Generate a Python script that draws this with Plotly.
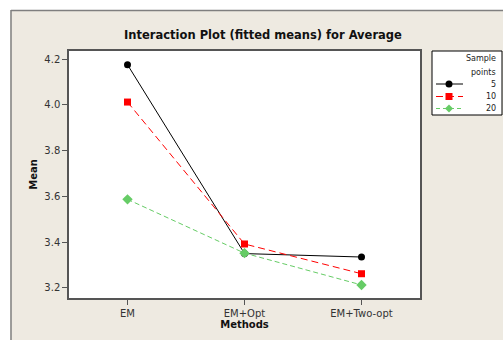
import plotly.graph_objects as go

methods = ["EM", "EM+Opt", "EM+Two-opt"]
series_names = ["5", "10", "20"]
mean_5 = [4.175, 3.35, 3.335]
mean_10 = [4.012, 3.392, 3.262]
mean_20 = [3.587, 3.352, 3.213]
y_ticks = [3.2, 3.4, 3.6, 3.8, 4.0, 4.2]

W, H = 503, 340
# plot area in pixels
L, R, T, B = 69, 420, 51, 298
pw, ph = R - L, B - T

def px(x):
    return (x - L) / pw

def py(y):
    return (B - y) / ph

FONT = "DejaVu Sans"
beige = "#EEEAE1"

styles = [
    dict(color="black", dash="solid", symbol="circle", size=7),
    dict(color="#FF0000", dash="7px,4px", symbol="square", size=7),
    dict(color="#66CC66", dash="5px,3px", symbol="diamond", size=8),
]

fig = go.Figure()
for name, vals, st in zip(series_names, [mean_5, mean_10, mean_20], styles):
    fig.add_trace(go.Scatter(
        x=[0, 1, 2], y=vals, name=name, mode="lines+markers", showlegend=False,
        line=dict(color=st["color"], width=1, dash=st["dash"]),
        marker=dict(color=st["color"], symbol=st["symbol"], size=st["size"]),
    ))

shapes = [
    dict(type="rect", xref="paper", yref="paper", x0=px(-5), x1=px(W + 5), y0=py(10), y1=py(-5),
         fillcolor="white", line=dict(width=0), layer="below"),
    dict(type="rect", xref="paper", yref="paper", x0=px(-5), x1=px(10.5), y0=py(H + 5), y1=py(-5),
         fillcolor="white", line=dict(width=0), layer="below"),
    dict(type="line", xref="paper", yref="paper", x0=px(11), x1=px(W + 5), y0=py(10.5), y1=py(10.5),
         line=dict(color="#7F7F7F", width=1.5)),
    dict(type="line", xref="paper", yref="paper", x0=px(11), x1=px(11), y0=py(10), y1=py(H + 5),
         line=dict(color="#7F7F7F", width=1.5)),
    # legend box
    dict(type="rect", xref="paper", yref="paper", x0=px(432), x1=px(502), y0=py(115), y1=py(51),
         fillcolor="white", line=dict(color="black", width=1)),
]
annotations = [
    dict(text="Sample", x=px(498), y=py(59), xref="paper", yref="paper", xanchor="right",
         yanchor="middle", showarrow=False, font=dict(size=8, color="#222222")),
    dict(text="points", x=px(498), y=py(72), xref="paper", yref="paper", xanchor="right",
         yanchor="middle", showarrow=False, font=dict(size=8, color="#222222")),
]
leg_y = [84, 96.5, 108.5]
leg_dash = ["solid", "7px,4px", "4px,3px"]
mx = 449
for name, st, yy, dsh in zip(series_names, styles, leg_y, leg_dash):
    shapes.append(dict(type="line", xref="paper", yref="paper", x0=px(436), x1=px(463),
                       y0=py(yy), y1=py(yy), line=dict(color=st["color"], width=1, dash=dsh)))
    r = st["size"] / 2
    if st["symbol"] == "circle":
        shapes.append(dict(type="circle", xref="paper", yref="paper", x0=px(mx - r), x1=px(mx + r),
                           y0=py(yy + r), y1=py(yy - r), fillcolor=st["color"], line=dict(width=0)))
    elif st["symbol"] == "square":
        shapes.append(dict(type="rect", xref="paper", yref="paper", x0=px(mx - r), x1=px(mx + r),
                           y0=py(yy + r), y1=py(yy - r), fillcolor=st["color"], line=dict(width=0)))
    else:
        path = (f"M {px(mx - r)} {py(yy)} L {px(mx)} {py(yy - r)} "
                f"L {px(mx + r)} {py(yy)} L {px(mx)} {py(yy + r)} Z")
        shapes.append(dict(type="path", xref="paper", yref="paper", path=path,
                           fillcolor=st["color"], line=dict(width=0)))
    annotations.append(dict(text=name, x=px(498), y=py(yy), xref="paper", yref="paper",
                            xanchor="right", yanchor="middle", showarrow=False,
                            font=dict(size=8, color="#222222")))

fig.update_layout(
    width=W, height=H,
    margin=dict(l=L, r=W - R, t=T, b=H - B),
    paper_bgcolor=beige, plot_bgcolor="white",
    font=dict(family=FONT, size=10, color="#333333"),
    title=dict(text="<b>Interaction Plot (fitted means) for Average</b>",
               xref="container", x=263 / W, xanchor="center",
               yref="container", y=1 - 35 / H, yanchor="middle",
               font=dict(family=FONT, size=11.5, color="#111111")),
    xaxis=dict(range=[-0.5, 2.5], tickmode="array", tickvals=[0, 1, 2], ticktext=methods,
               showgrid=False, zeroline=False, showline=True, mirror=True,
               linecolor="#555555", linewidth=1.5, ticks="outside", ticklen=5,
               tickcolor="#555555", tickfont=dict(size=10, color="#333333"),
               title=dict(text="<b>Methods</b>", font=dict(size=10, color="#111111"), standoff=1)),
    yaxis=dict(range=[3.156, 4.235], tickmode="array", tickvals=y_ticks,
               ticktext=[f"{v:.1f}" for v in y_ticks],
               showgrid=False, zeroline=False, showline=True, mirror=True,
               linecolor="#555555", linewidth=1.5, ticks="outside", ticklen=5,
               tickcolor="#555555", tickfont=dict(size=10, color="#333333"),
               title=dict(text="<b>Mean</b>", font=dict(size=10, color="#111111"), standoff=5)),
    shapes=shapes,
    annotations=annotations,
)

fig.write_html("out.html", config={"displayModeBar": False},
               post_script="document.body.style.margin='0';document.body.style.overflow='hidden';")
